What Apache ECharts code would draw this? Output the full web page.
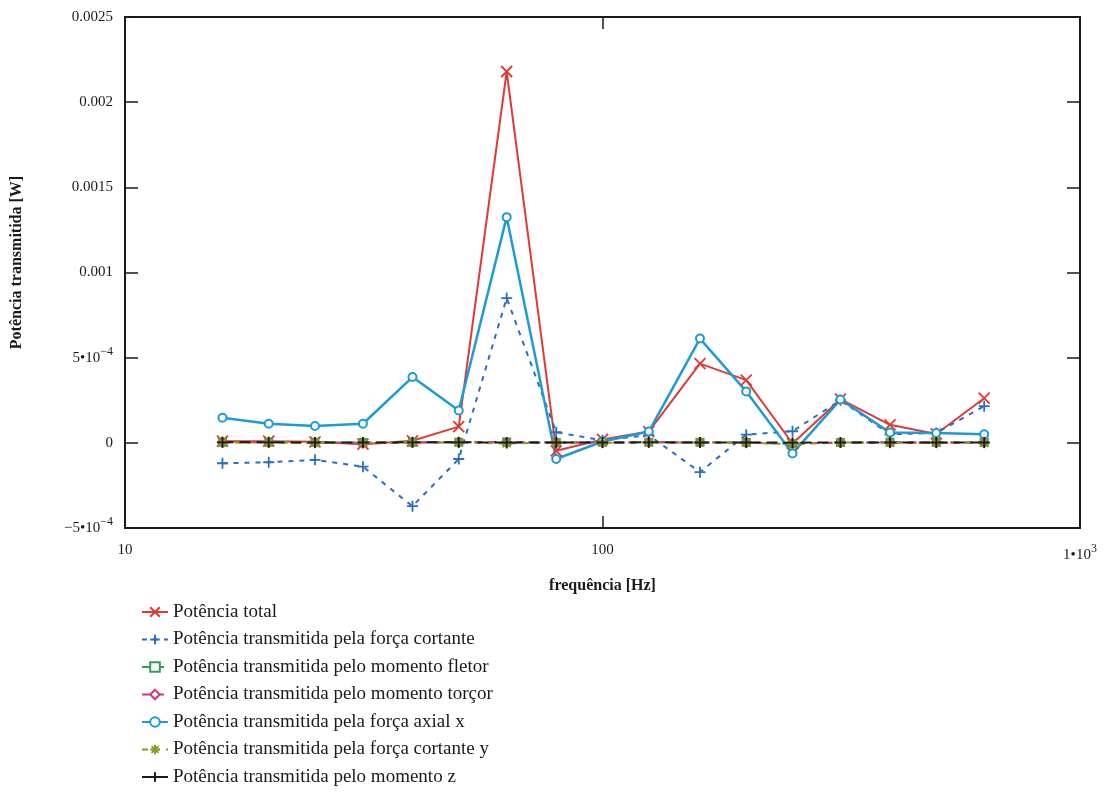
<!DOCTYPE html>
<html>
<head>
<meta charset="utf-8">
<title>Potência transmitida</title>
<script src="https://cdn.jsdelivr.net/npm/echarts@6/dist/echarts.min.js"></script>
<style>
  html, body { margin: 0; padding: 0; background: #ffffff; }
  #chart { width: 1103px; height: 805px; }
</style>
</head>
<body>
<div id="chart"></div>
<script>
// Third-octave band centre frequencies [Hz]
const freqs = [16, 20, 25, 31.5, 40, 50, 63, 80, 100, 125, 160, 200, 250, 315, 400, 500, 630];

// Transmitted power per path [W]
const potTotal      = [0.000010, 0.000010, 0.000006, -0.000008, 0.000012, 0.000095, 0.002180, -0.000047, 0.000020, 0.000066, 0.000465, 0.000368, -0.000004, 0.000256, 0.000106, 0.000052, 0.000262];
const forcaCortante = [-0.000120, -0.000114, -0.000100, -0.000140, -0.000372, -0.000095, 0.000850, 0.000062, 0.000015, 0.000045, -0.000172, 0.000048, 0.000068, 0.000250, 0.000050, 0.000058, 0.000215];
const momFletor     = [0.000004, 0.000003, 0.000003, 0.000002, 0.000003, 0.000004, 0.000005, 0.000002, 0.000003, 0.000004, 0.000003, 0.000002, -0.000006, 0.000002, 0.000003, 0.000002, 0.000003];
const momTorcor     = [0.000006, 0.000004, 0.000002, -0.000004, 0.000002, 0.000003, 0.000004, 0.000001, 0.000002, 0.000003, 0.000002, 0.000002, -0.000003, 0.000001, 0.000002, 0.000001, 0.000002];
const forcaAxialX   = [0.000147, 0.000112, 0.000099, 0.000112, 0.000386, 0.000190, 0.001325, -0.000095, 0.000008, 0.000066, 0.000612, 0.000302, -0.000062, 0.000254, 0.000060, 0.000058, 0.000050];
const cortanteY     = [0.000002, 0.000002, 0.000001, 0.000001, 0.000002, 0.000002, -0.000004, 0.000002, 0.000001, 0.000002, 0.000002, 0.000001, -0.000008, 0.000002, 0.000001, 0.000001, 0.000001];
const momentoZ      = [0.000003, 0.000003, 0.000002, 0.000002, 0.000003, 0.000003, 0.000002, 0.000002, 0.000002, 0.000003, 0.000002, 0.000002, 0.000001, 0.000002, 0.000002, 0.000002, 0.000002];

const seriesNames = [
  'Potência total',
  'Potência transmitida pela força cortante',
  'Potência transmitida pelo momento fletor',
  'Potência transmitida pelo momento torçor',
  'Potência transmitida pela força axial x',
  'Potência transmitida pela força cortante y',
  'Potência transmitida pelo momento z'
];

// Axis tick values and their printed labels (rich-text markup for powers of ten)
const yTicks = [-0.0005, 0, 0.0005, 0.001, 0.0015, 0.002, 0.0025];
const yTickLabels = ['{b|−5•10}{s|−4}', '0', '{b|5•10}{s|−4}', '0.001', '0.0015', '0.002', '0.0025'];
const xTicks = [10, 100, 1000];
const xTickLabels = ['10', '100', '{b|1•10}{s|3}'];

const serif = 'Liberation Serif';
const richSup = {
  b: { fontFamily: serif, fontSize: 15, color: '#1a1a1a' },
  s: { fontFamily: serif, fontSize: 12, color: '#1a1a1a', padding: [0, 0, 12, 0] }
};

function pick(ticks, labels, v) {
  let best = 0;
  for (let i = 1; i < ticks.length; i++) {
    if (Math.abs(ticks[i] - v) < Math.abs(ticks[best] - v)) best = i;
  }
  return labels[best];
}

// Marker shapes drawn as stroked paths
const symX    = 'path://M0,0L10,10M10,0L0,10';
const symPlus = 'path://M5,0L5,10M0,5L10,5';
const symStar = 'path://M5,0L5,10M0,5L10,5M1.5,1.5L8.5,8.5M8.5,1.5L1.5,8.5';

function pairs(vals) { return freqs.map((f, i) => [f, vals[i]]); }

function makeSeries(name, vals, color, symbol, symbolSize, lineType, width) {
  return {
    name: name,
    type: 'line',
    data: pairs(vals),
    symbol: symbol,
    symbolSize: symbolSize,
    showAllSymbol: true,
    lineStyle: { color: color, width: width, type: lineType },
    itemStyle: { color: color, borderColor: color, borderWidth: 1.8 },
    emphasis: { disabled: true },
    animation: false
  };
}

const chart = echarts.init(document.getElementById('chart'), null, { renderer: 'canvas' });

const tickStyle = { color: '#1a1a1a', width: 1.5 };

const option = {
  backgroundColor: '#ffffff',
  animation: false,
  grid: {
    left: 125, right: 23, top: 17, bottom: 277,
    show: true, borderColor: '#1a1a1a', borderWidth: 2, backgroundColor: 'transparent'
  },
  legend: {
    orient: 'vertical',
    left: 136,
    top: 597,
    itemWidth: 26,
    itemHeight: 12,
    itemGap: 7.5,
    textStyle: { fontFamily: serif, fontSize: 19, color: '#1a1a1a', lineHeight: 20 },
    data: seriesNames
  },
  xAxis: [
    {
      type: 'log', logBase: 10, min: 10, max: 1000,
      name: 'frequência [Hz]', nameLocation: 'middle', nameGap: 50,
      nameTextStyle: { fontFamily: serif, fontSize: 16, fontWeight: 'bold', color: '#1a1a1a' },
      axisLine: { show: false, onZero: false },
      axisTick: { show: true, inside: true, length: 12, lineStyle: tickStyle },
      minorTick: { show: false },
      splitLine: { show: false },
      axisLabel: {
        margin: 15, fontFamily: serif, fontSize: 15, color: '#1a1a1a',
        formatter: v => pick(xTicks, xTickLabels, v), rich: richSup
      }
    },
    {
      type: 'log', logBase: 10, min: 10, max: 1000, position: 'top',
      axisLine: { show: false, onZero: false },
      axisTick: { show: true, inside: true, length: 12, lineStyle: tickStyle },
      splitLine: { show: false },
      axisLabel: { show: false }
    }
  ],
  yAxis: [
    {
      type: 'value', min: -0.0005, max: 0.0025, interval: 0.0005,
      name: 'Potência transmitida [W]', nameLocation: 'middle', nameGap: 100,
      nameTextStyle: { fontFamily: serif, fontSize: 16, fontWeight: 'bold', color: '#1a1a1a', padding: [0, 0, 0, 20] },
      axisLine: { show: false, onZero: false },
      axisTick: { show: true, inside: true, length: 13, lineStyle: tickStyle },
      splitLine: { show: false },
      axisLabel: {
        margin: 12, fontFamily: serif, fontSize: 15, color: '#1a1a1a',
        formatter: v => pick(yTicks, yTickLabels, v), rich: richSup
      }
    },
    {
      type: 'value', min: -0.0005, max: 0.0025, interval: 0.0005, position: 'right',
      axisLine: { show: false, onZero: false },
      axisTick: { show: true, inside: true, length: 13, lineStyle: tickStyle },
      splitLine: { show: false },
      axisLabel: { show: false }
    }
  ],
  series: [
    makeSeries(seriesNames[0], potTotal,      '#e03a35', symX,           11, 'solid',  2),
    makeSeries(seriesNames[1], forcaCortante, '#2a6fbd', symPlus,        11, [5, 6],   2),
    makeSeries(seriesNames[2], momFletor,     '#2f9e55', 'emptyRect',     7, [8, 6],   2),
    makeSeries(seriesNames[3], momTorcor,     '#d9357a', 'emptyDiamond',  8, [8, 6],   2),
    makeSeries(seriesNames[4], forcaAxialX,   '#1e9ad6', 'emptyCircle',   8, 'solid',  2.5),
    makeSeries(seriesNames[5], cortanteY,     '#8c9a22', symStar,        11, [6, 6],   2),
    makeSeries(seriesNames[6], momentoZ,      '#1a1a1a', symPlus,        11, [11, 6],  2)
  ]
};

chart.setOption(option);
</script>
</body>
</html>
